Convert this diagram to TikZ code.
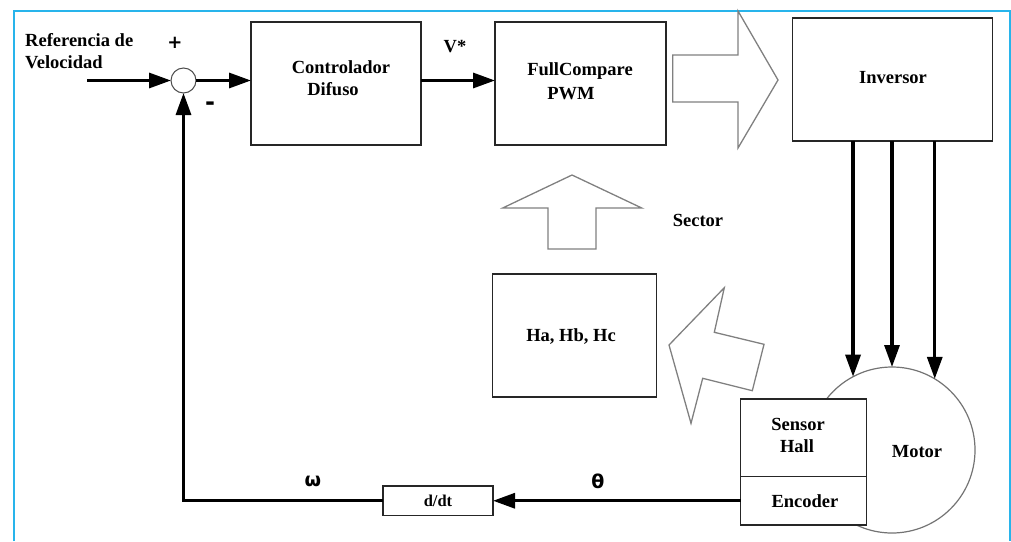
\documentclass[tikz,border=0pt]{standalone}
\usepackage{fontspec}
\setmainfont{Liberation Serif}
\newfontfamily\symfont{DejaVu Sans}
\usetikzlibrary{arrows.meta,calc}
\definecolor{framecol}{RGB}{40,180,235}
\definecolor{hollowcol}{RGB}{128,128,128}
\tikzset{
  blk/.style={draw=black!85,line width=1.3pt,fill=white,inner sep=0pt,outer sep=0pt},
  txt/.style={font=\fontsize{18.5}{22}\selectfont\bfseries,inner sep=0pt,align=center},
  sym/.style={font=\fontsize{19}{22}\selectfont\symfont\bfseries,inner sep=0pt},
  arr/.style={line width=3.2pt,-{Triangle[length=22pt,width=15pt]}},
  hollow/.style={draw=hollowcol,line width=1.3pt,line join=miter},
}
\begin{document}
\begin{tikzpicture}[x=1pt,y=-1pt]
\useasboundingbox (0,0) rectangle (1011,541);
% frame
\draw[framecol,line width=2pt] (13.5,541) -- (13.5,10.5) -- (1009.5,10.5) -- (1009.5,541);
% blocks
\node[blk,minimum width=170pt,minimum height=123pt] (ctrl) at (336,83.5) {};
\node[blk,minimum width=171pt,minimum height=123pt] (fc) at (580.5,83.5) {};
\node[blk,minimum width=200pt,minimum height=123pt] (inv) at (892.5,79.5) {};
\node[blk,minimum width=164pt,minimum height=123pt] (ha) at (574.5,335.5) {};
\node[draw=hollowcol!90!black,line width=1.2pt,circle,minimum size=166pt,inner sep=0pt,outer sep=0pt] (motor) at (892,450) {};
\node[blk,minimum width=126pt,minimum height=77.5pt] (hall) at (803.5,437.75) {};
\node[blk,minimum width=126pt,minimum height=48.5pt] (enc) at (803.5,500.75) {};
\node[blk,minimum width=110pt,minimum height=29.5pt] (ddt) at (438,500.75) {};
\node[draw=black!70,line width=1pt,circle,minimum size=25pt,inner sep=0pt,outer sep=0pt,fill=white] (sum) at (183.5,80.5) {};
% texts
\node[txt,anchor=north west,align=left] (ref) at (25,33) {Referencia de\\Velocidad};
\node[font=\fontsize{18}{20}\selectfont\symfont\bfseries,inner sep=0pt] (plus) at (175,43) {+};
\node[font=\fontsize{24}{24}\selectfont\symfont\bfseries,inner sep=0pt] (minus) at (210,106) {-};
\node[txt] (ctrlt1) at (341,67) {Controlador};
\node[txt] (ctrlt2) at (333,89) {Difuso};
\node[txt] (vstar) at (455,47) {V*};
\node[txt] (fct1) at (580,71) {FullCompare};
\node[txt] (fct2) at (571,94) {PWM};
\node[txt] (invt) at (893,78) {Inversor};
\node[txt] (sector) at (698,220) {Sector};
\node[txt] (hat) at (571,337) {Ha, Hb, Hc};
\node[txt] (hallt1) at (798,424) {Sensor};
\node[txt] (hallt2) at (797,446) {Hall};
\node[txt] (enct) at (805,501) {Encoder};
\node[txt] (motort) at (917,452) {Motor};
\node[txt,font=\fontsize{16.5}{20}\selectfont\bfseries] (ddtt) at (438,501) {d/dt};
\node[sym] (theta) at (598,481) {θ};
\node[sym] (omega) at (313,481) {ω};
% connectors
\coordinate (in) at (87,80.5);
\draw[arr] (in) -- (sum.west);
\draw[arr] (sum.east) -- (sum.east -| ctrl.west);
\draw[arr] (ctrl.east |- sum) -- (fc.west |- sum);
\draw[arr] (inv.south -| motor.118.8) -- (motor.118.8);
\draw[arr] (inv.south -| motor.90) -- (motor.90);
\draw[arr] (inv.south -| motor.59.9) -- (motor.59.9);
\draw[arr] (enc.west) -- (ddt.east);
\draw[arr] (ddt.west) -| (sum.south);
% hollow arrows
\draw[hollow] (672.7,55) -- (738,55) -- (738,11) -- (778,80) -- (738,148) -- (738,102) -- (672.7,102) -- cycle;
\draw[hollow] (548,249) -- (548,208) -- (502.7,208) -- (572,175) -- (641.7,208) -- (596,208) -- (596,249) -- cycle;
\draw[hollow] (669,345) -- (724.3,287.7) -- (714.3,332.3) -- (764,344.3) -- (752.3,390.7) -- (702.7,378.3) -- (691,423.3) -- cycle;
\end{tikzpicture}
\end{document}
